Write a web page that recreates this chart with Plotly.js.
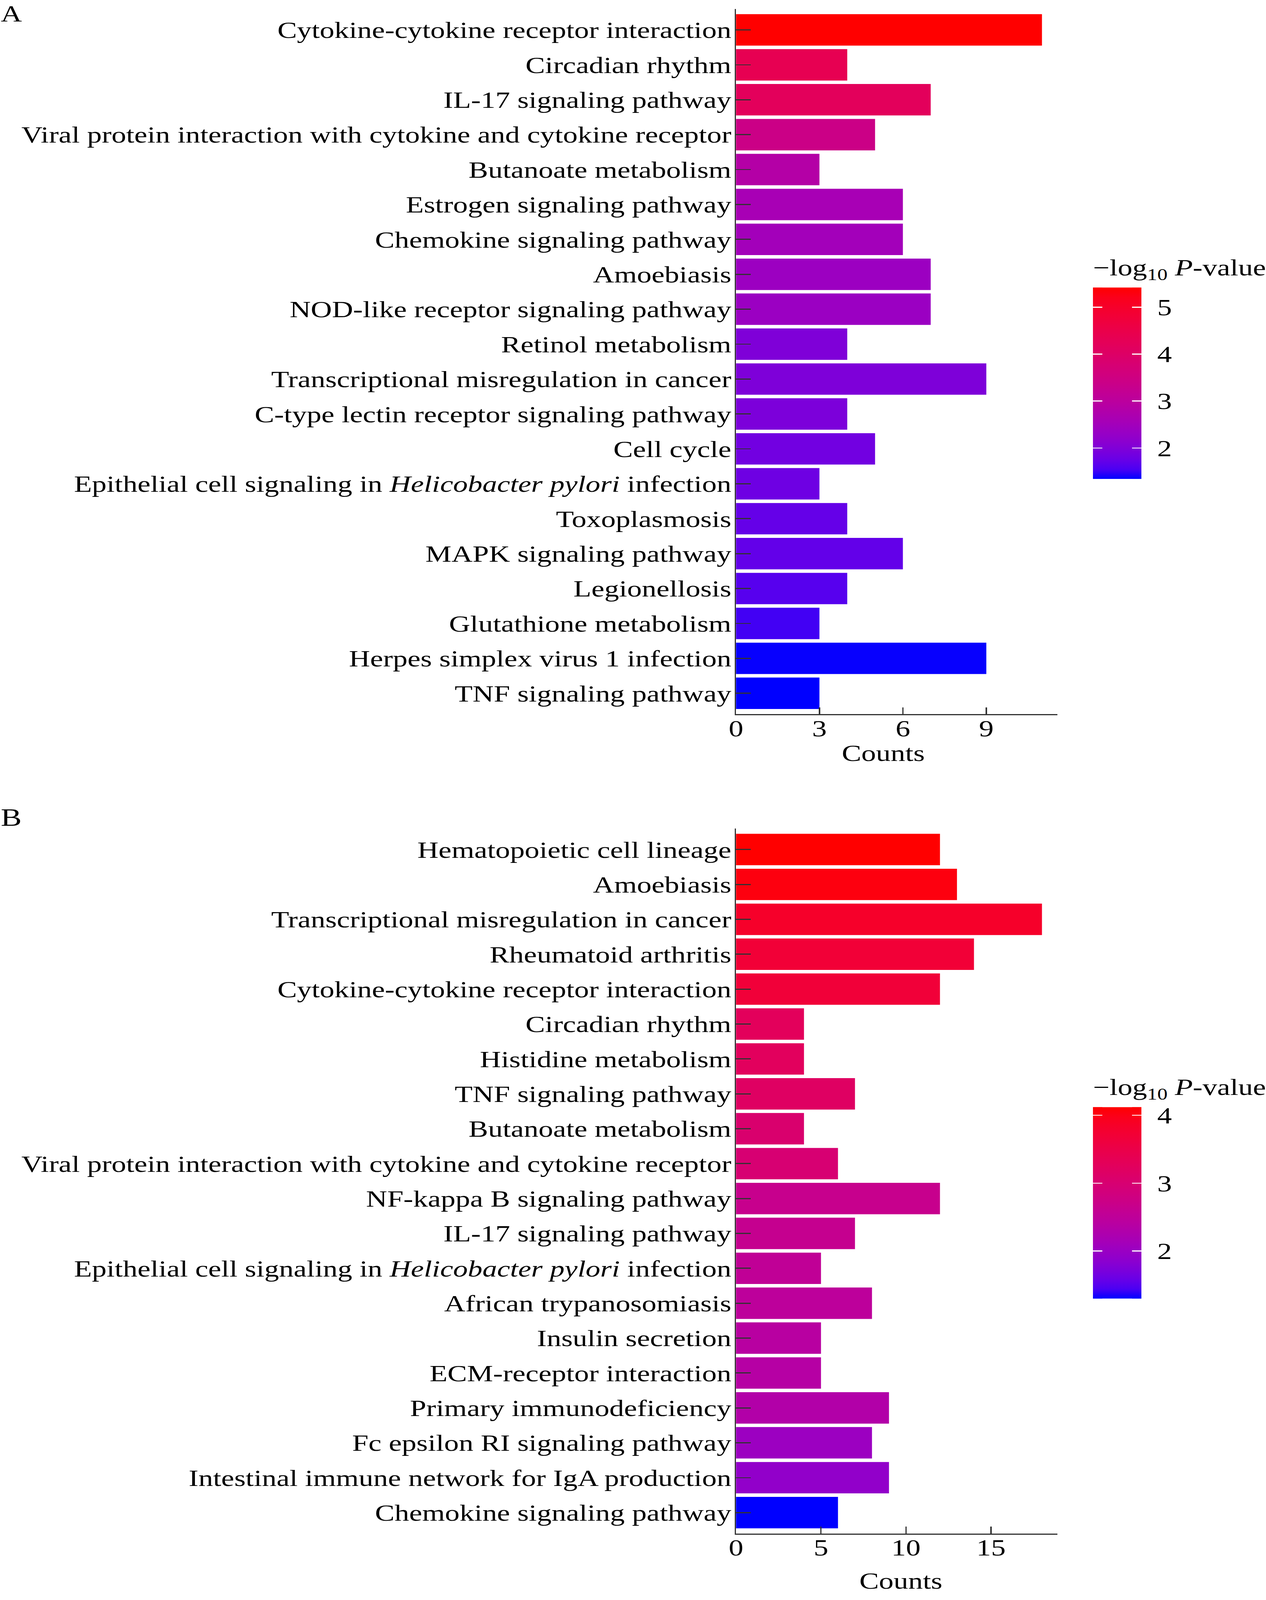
<!DOCTYPE html>
<html>
<head>
<meta charset="utf-8">
<script src="https://cdn.plot.ly/plotly-3.0.1.min.js"></script>
<style>
  html, body { margin: 0; padding: 0; background: #ffffff; overflow: hidden; }
  #plot { width: 3241px; height: 5175px; transform-origin: 0 0; }
</style>
</head>
<body>
<div id="plot"></div>
<script>
// KEGG enrichment, panel A (top to bottom)
let pathwaysA = [
  'Cytokine-cytokine receptor interaction',
  'Circadian rhythm',
  'IL-17 signaling pathway',
  'Viral protein interaction with cytokine and cytokine receptor',
  'Butanoate metabolism',
  'Estrogen signaling pathway',
  'Chemokine signaling pathway',
  'Amoebiasis',
  'NOD-like receptor signaling pathway',
  'Retinol metabolism',
  'Transcriptional misregulation in cancer',
  'C-type lectin receptor signaling pathway',
  'Cell cycle',
  'Epithelial cell signaling in <i>Helicobacter pylori</i> infection',
  'Toxoplasmosis',
  'MAPK signaling pathway',
  'Legionellosis',
  'Glutathione metabolism',
  'Herpes simplex virus 1 infection',
  'TNF signaling pathway'
];
let countsA = [11, 4, 7, 5, 3, 6, 6, 7, 7, 4, 9, 4, 5, 3, 4, 6, 4, 3, 9, 3];
let logPA = [5.42, 4.36, 4.20, 3.42, 2.85, 2.60, 2.52, 2.40, 2.38, 1.99,
             1.97, 1.95, 1.85, 1.81, 1.73, 1.71, 1.63, 1.52, 1.36, 1.34];
let colorTicksA = [2, 3, 4, 5];

// panel B (top to bottom)
let pathwaysB = [
  'Hematopoietic cell lineage',
  'Amoebiasis',
  'Transcriptional misregulation in cancer',
  'Rheumatoid arthritis',
  'Cytokine-cytokine receptor interaction',
  'Circadian rhythm',
  'Histidine metabolism',
  'TNF signaling pathway',
  'Butanoate metabolism',
  'Viral protein interaction with cytokine and cytokine receptor',
  'NF-kappa B signaling pathway',
  'IL-17 signaling pathway',
  'Epithelial cell signaling in <i>Helicobacter pylori</i> infection',
  'African trypanosomiasis',
  'Insulin secretion',
  'ECM-receptor interaction',
  'Primary immunodeficiency',
  'Fc epsilon RI signaling pathway',
  'Intestinal immune network for IgA production',
  'Chemokine signaling pathway'
];
let countsB = [12, 13, 18, 14, 12, 4, 4, 7, 4, 6, 12, 7, 5, 8, 5, 5, 9, 8, 9, 6];
let logPB = [4.12, 4.04, 3.84, 3.70, 3.67, 3.27, 3.25, 3.19, 3.05, 2.99,
             2.65, 2.63, 2.54, 2.48, 2.40, 2.37, 2.32, 2.03, 1.92, 1.30];
let colorTicksB = [2, 3, 4];

let W = 3241;
let H = 5175;
let fontFamily = '"Liberation Serif", "Times New Roman", serif';
let axisColor = '#333333';

// blue -> red gradient interpolated in Lab space (like ggplot2's scale_fill_gradient)
function srgbToLab(rgb) {
  let lin = rgb.map(c => {
    c = c / 255;
    return c <= 0.04045 ? c / 12.92 : Math.pow((c + 0.055) / 1.055, 2.4);
  });
  let X = (0.4124 * lin[0] + 0.3576 * lin[1] + 0.1805 * lin[2]) / 0.95047;
  let Y = (0.2126 * lin[0] + 0.7152 * lin[1] + 0.0722 * lin[2]);
  let Z = (0.0193 * lin[0] + 0.1192 * lin[1] + 0.9505 * lin[2]) / 1.08883;
  let f = t => t > 0.008856 ? Math.cbrt(t) : 7.787 * t + 16 / 116;
  return [116 * f(Y) - 16, 500 * (f(X) - f(Y)), 200 * (f(Y) - f(Z))];
}

function labToSrgb(lab) {
  let fy = (lab[0] + 16) / 116;
  let fx = fy + lab[1] / 500;
  let fz = fy - lab[2] / 200;
  let inv = f => Math.pow(f, 3) > 0.008856 ? Math.pow(f, 3) : (f - 16 / 116) / 7.787;
  let X = 0.95047 * inv(fx), Y = inv(fy), Z = 1.08883 * inv(fz);
  let lin = [
    3.2406 * X - 1.5372 * Y - 0.4986 * Z,
    -0.9689 * X + 1.8758 * Y + 0.0415 * Z,
    0.0557 * X - 0.2040 * Y + 1.0570 * Z
  ];
  return lin.map(c => {
    c = c <= 0.0031308 ? 12.92 * c : 1.055 * Math.pow(c, 1 / 2.4) - 0.055;
    return Math.round(255 * Math.min(1, Math.max(0, c)));
  });
}

function labScale(low, high, steps) {
  let a = srgbToLab(low);
  let b = srgbToLab(high);
  let scale = [];
  for (let i = 0; i <= steps; i++) {
    let t = i / steps;
    let rgb = labToSrgb(a.map((v, k) => v + (b[k] - v) * t));
    scale.push([t, 'rgb(' + rgb.join(',') + ')']);
  }
  return scale;
}

let blueRed = labScale([0, 0, 255], [255, 0, 0], 20);
let titleText = '\u2212log<sub>10</sub> <i>P</i>-value';
// same height as the real title but narrow, so the strips don't push the margin
let stripTitle = '\u2212log<sub>10</sub>';

// The colorbar's len also holds its title, so the box starts above the bar.
// 'main' draws the gradient, labels and title; 'left'/'right' are thin strips
// on top of it that only carry the white tick marks on each edge.
function colorAxis(values, ticks, xPx, barTopPx, part) {
  let barLen = 618;
  let titleSpace = 100;
  let main = part === 'main';
  let bar = {
    x: (part === 'right' ? xPx + 100 : xPx) / W,
    xanchor: 'left',
    y: 1 - (barTopPx - titleSpace + (barLen + titleSpace) / 2) / H,
    yanchor: 'middle',
    len: (barLen + titleSpace) / H,
    lenmode: 'fraction',
    thickness: main ? 124 : 24,
    thicknessmode: 'pixels',
    xpad: 0,
    ypad: 0,
    outlinewidth: 0,
    tickvals: ticks,
    showticklabels: main,
    tickfont: {size: 75, color: '#000000'},
    title: {
      text: main ? titleText : stripTitle,
      side: 'top',
      font: {size: 75, color: main ? '#000000' : 'rgba(0,0,0,0)'}
    }
  };
  if (main) {
    // invisible outside ticks just push the labels away from the bar
    Object.assign(bar, {ticks: 'outside', ticklen: 26, tickcolor: 'rgba(0,0,0,0)'});
  } else {
    Object.assign(bar, {ticks: 'inside', ticklen: 24, tickwidth: 3, tickcolor: '#ffffff'});
  }
  return {
    colorscale: blueRed,
    cmin: Math.min(...values),
    cmax: Math.max(...values),
    colorbar: bar
  };
}

function countAxis(domain, anchor, counts, step) {
  return {
    domain: domain,
    anchor: anchor,
    range: [0, Math.max(...counts) * 1.05],
    tick0: 0,
    dtick: step,
    showgrid: false,
    zeroline: false,
    showline: true,
    linecolor: axisColor,
    linewidth: 3.5,
    ticks: 'inside',
    ticklen: 22,
    tickwidth: 3.5,
    tickcolor: axisColor,
    ticklabelstandoff: -22,
    tickfont: {size: 75, color: '#000000'},
    fixedrange: true
  };
}

function pathwayAxis(domain, anchor, names) {
  return {
    domain: domain,
    anchor: anchor,
    type: 'category',
    range: [names.length - 0.4, -0.6],
    showgrid: false,
    zeroline: false,
    showline: true,
    linecolor: axisColor,
    linewidth: 3,
    ticks: 'inside',
    ticklen: 38,
    tickwidth: 3.5,
    tickcolor: axisColor,
    ticklabelstandoff: -6,
    tickfont: {size: 75, color: '#000000'},
    fixedrange: true
  };
}

function barTrace(counts, names, values, xa, ya, cax) {
  return {
    type: 'bar',
    orientation: 'h',
    x: counts,
    y: names,
    xaxis: xa,
    yaxis: ya,
    marker: {color: values, coloraxis: cax, line: {width: 0}},
    hoverinfo: 'skip'
  };
}

// invisible points that only exist to carry an extra colorbar strip
function stripTrace(counts, names, values, xa, ya, cax) {
  return {
    type: 'scatter',
    mode: 'markers',
    x: counts,
    y: names,
    xaxis: xa,
    yaxis: ya,
    marker: {color: values, coloraxis: cax, opacity: 0},
    hoverinfo: 'skip'
  };
}

let data = [
  barTrace(countsA, pathwaysA, logPA, 'x', 'y', 'coloraxis'),
  barTrace(countsB, pathwaysB, logPB, 'x2', 'y2', 'coloraxis2'),
  stripTrace(countsA, pathwaysA, logPA, 'x', 'y', 'coloraxis3'),
  stripTrace(countsA, pathwaysA, logPA, 'x', 'y', 'coloraxis4'),
  stripTrace(countsB, pathwaysB, logPB, 'x2', 'y2', 'coloraxis5'),
  stripTrace(countsB, pathwaysB, logPB, 'x2', 'y2', 'coloraxis6')
];

let plotLeft = 1890 / W;
let plotRight = 2715 / W;

let layout = {
  width: W,
  height: H,
  margin: {l: 0, r: 0, t: 0, b: 0},
  paper_bgcolor: '#ffffff',
  plot_bgcolor: '#ffffff',
  font: {family: fontFamily, size: 75, color: '#000000'},
  showlegend: false,
  bargap: 0.1,
  xaxis: countAxis([plotLeft, plotRight], 'y', countsA, 3),
  yaxis: pathwayAxis([1 - 2310 / H, 1 - 29 / H], 'x', pathwaysA),
  xaxis2: countAxis([plotLeft, plotRight], 'y2', countsB, 5),
  yaxis2: pathwayAxis([1 - 4960 / H, 1 - 2680 / H], 'x2', pathwaysB),
  coloraxis: colorAxis(logPA, colorTicksA, 2807, 931, 'main'),
  coloraxis2: colorAxis(logPB, colorTicksB, 2807, 3582, 'main'),
  coloraxis3: colorAxis(logPA, colorTicksA, 2807, 931, 'left'),
  coloraxis4: colorAxis(logPA, colorTicksA, 2807, 931, 'right'),
  coloraxis5: colorAxis(logPB, colorTicksB, 2807, 3582, 'left'),
  coloraxis6: colorAxis(logPB, colorTicksB, 2807, 3582, 'right'),
  annotations: [
    {text: 'A', xref: 'paper', yref: 'paper', x: 0, y: 1,
     xanchor: 'left', yanchor: 'top', showarrow: false, font: {size: 75}},
    {text: 'B', xref: 'paper', yref: 'paper', x: 0, y: 1 - 2598 / H,
     xanchor: 'left', yanchor: 'top', showarrow: false, font: {size: 80}},
    {text: 'Counts', xref: 'paper', yref: 'paper', x: 2268 / W, y: 1 - 2392 / H,
     xanchor: 'center', yanchor: 'top', showarrow: false, font: {size: 75}},
    {text: 'Counts', xref: 'paper', yref: 'paper', x: 2314 / W, y: 1 - 5069 / H,
     xanchor: 'center', yanchor: 'top', showarrow: false, font: {size: 75}}
  ]
};

Plotly.newPlot('plot', data, layout, {staticPlot: true, displayModeBar: false});

// the browser window may be shorter than the figure; fit it in vertically
let fit = Math.min(1, window.innerHeight / H);
if (fit < 1) {
  document.getElementById('plot').style.transform = 'scale(1, ' + fit + ')';
}
</script>
</body>
</html>
